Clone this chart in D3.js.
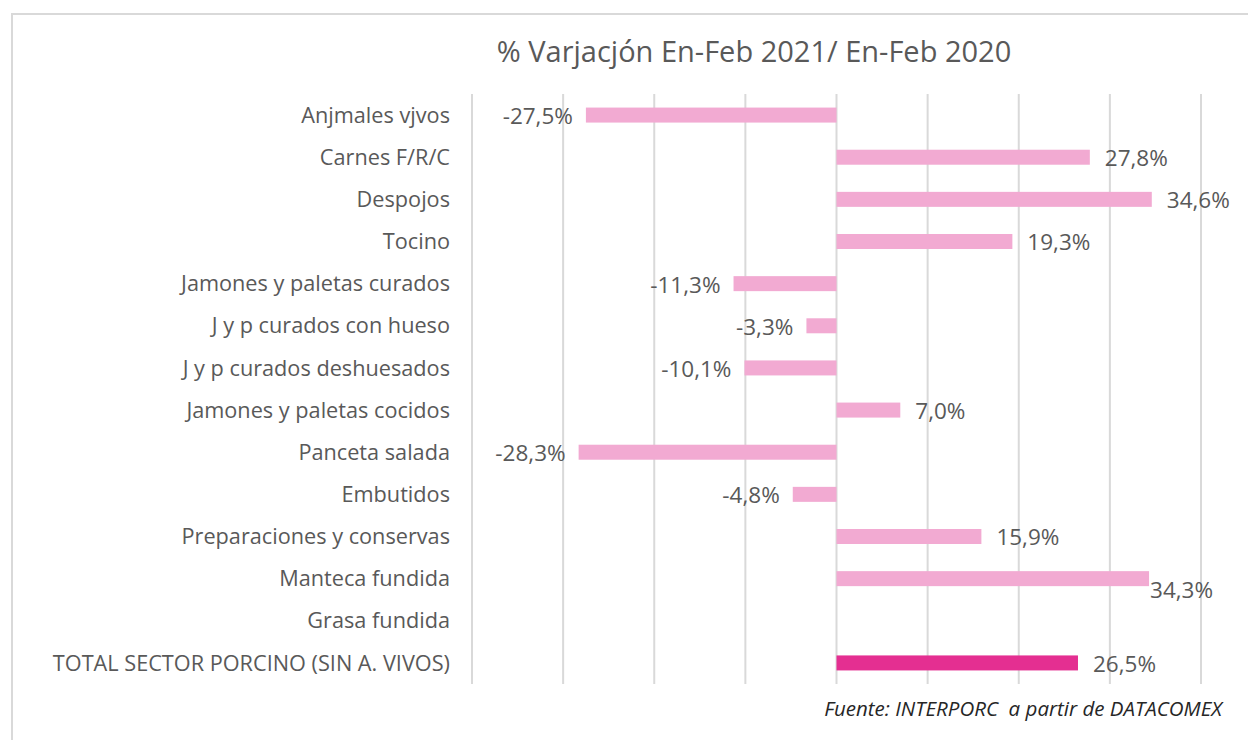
<!DOCTYPE html>
<html>
<head>
<meta charset="utf-8">
<script src="https://cdn.jsdelivr.net/npm/d3@7"></script>
<style>
  body { margin: 0; background: #fff; }
  text { font-family: "Open Sans", "Noto Sans", sans-serif; fill: #595959; }
</style>
</head>
<body>
<div id="chart"></div>
<script>
// chart data
const categories = [
  "Anjmales vjvos", "Carnes F/R/C", "Despojos", "Tocino",
  "Jamones y paletas curados", "J y p curados con hueso",
  "J y p curados deshuesados", "Jamones y paletas cocidos",
  "Panceta salada", "Embutidos", "Preparaciones y conservas",
  "Manteca fundida", "Grasa fundida", "TOTAL SECTOR PORCINO (SIN A. VIVOS)"
];
const values = [-27.5, 27.8, 34.6, 19.3, -11.3, -3.3, -10.1, 7.0, -28.3, -4.8, 15.9, 34.3, null, 26.5];
const gridTicks = [-40, -30, -20, -10, 0, 10, 20, 30, 40];

const W = 1248, H = 740;
const margin = { top: 94, right: 47, bottom: 56, left: 472 };

const svg = d3.select("#chart")
  .append("svg")
  .attr("width", W)
  .attr("height", H);

// outer frame
svg.append("rect")
  .attr("x", 12).attr("y", 14)
  .attr("width", W + 20).attr("height", H)
  .attr("fill", "none")
  .attr("stroke", "#d9d9d9")
  .attr("stroke-width", 2);

const x = d3.scaleLinear()
  .domain([-40, 40])
  .range([margin.left, W - margin.right]);

const y = d3.scaleBand()
  .domain(categories)
  .range([margin.top, H - margin.bottom]);

// vertical gridlines
svg.append("g")
  .selectAll("line")
  .data(gridTicks)
  .join("line")
  .attr("x1", d => x(d)).attr("x2", d => x(d))
  .attr("y1", margin.top).attr("y2", H - margin.bottom)
  .attr("stroke", "#d9d9d9")
  .attr("stroke-width", 2);

// title
svg.append("text")
  .attr("x", 754).attr("y", 62)
  .attr("text-anchor", "middle")
  .style("font-size", "29px")
  .text("% Varjacjón En-Feb 2021/ En-Feb 2020");

// category labels
svg.append("g")
  .selectAll("text")
  .data(categories)
  .join("text")
  .attr("x", 450)
  .attr("y", d => y(d) + y.bandwidth() / 2)
  .attr("dy", "0.35em")
  .attr("text-anchor", "end")
  .style("font-size", "21.7px")
  .text(d => d);

const rows = categories.map((c, i) => ({ c, v: values[i], total: i === categories.length - 1 }))
  .filter(d => d.v !== null);

const barH = 15;

svg.append("g")
  .selectAll("rect")
  .data(rows)
  .join("rect")
  .attr("x", d => x(Math.min(0, d.v)))
  .attr("y", d => y(d.c) + y.bandwidth() / 2 - barH / 2)
  .attr("width", d => Math.abs(x(d.v) - x(0)))
  .attr("height", barH)
  .attr("fill", d => d.total ? "#e42f91" : "#f2aad2");

const fmt = v => v.toFixed(1).replace(".", ",") + "%";
const shifted = "Manteca fundida"; // label pushed below its bar in the original

svg.append("g")
  .selectAll("text")
  .data(rows)
  .join("text")
  .attr("x", d => d.v < 0 ? x(d.v) - 13 : x(d.v) + (d.c === shifted ? 1 : 15))
  .attr("y", d => y(d.c) + y.bandwidth() / 2 + (d.c === shifted ? 11 : 1))
  .attr("dy", "0.35em")
  .attr("text-anchor", d => d.v < 0 ? "end" : "start")
  .style("font-size", "22.5px")
  .text(d => fmt(d.v));

// source note
svg.append("text")
  .attr("x", 1222).attr("y", 716)
  .attr("text-anchor", "end")
  .attr("xml:space", "preserve")
  .style("white-space", "pre")
  .style("font-size", "20.5px")
  .style("font-style", "italic")
  .style("fill", "#262626")
  .text("Fuente: INTERPORC  a partir de DATACOMEX");
</script>
</body>
</html>
